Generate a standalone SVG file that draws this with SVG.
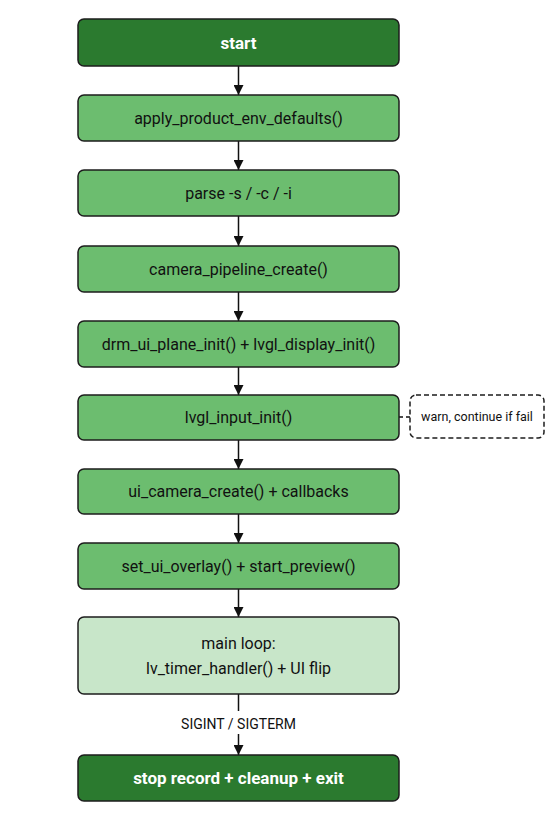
<svg xmlns="http://www.w3.org/2000/svg" width="560" height="840" viewBox="0 0 560 840">
<defs>
<marker id="arr" viewBox="0 0 10 10" refX="10" refY="5" markerWidth="10" markerHeight="10" markerUnits="userSpaceOnUse" orient="auto">
<path d="M0,0 L10,5 L0,10 z" fill="#111"/>
</marker>
<style>
.box{stroke:#1c1c1c;stroke-width:1.5}
.dark{fill:#2b7a2f}
.mid{fill:#6cbd6f}
.light{fill:#c8e6c9}
.t{font-family:Roboto,"Liberation Sans",sans-serif;font-size:16px;text-anchor:middle;fill:#111}
.tw{font-family:Roboto,"Liberation Sans",sans-serif;font-size:17px;font-weight:bold;text-anchor:middle;fill:#fff}
.edge{stroke:#111;stroke-width:1.5;fill:none}
.lbl{font-family:Roboto,"Liberation Sans",sans-serif;font-size:14px;text-anchor:middle;fill:#111}
.note{font-family:Roboto,"Liberation Sans",sans-serif;font-size:12.5px;text-anchor:middle;fill:#111}
</style>
</defs>
<rect width="560" height="840" fill="#fff"/>
<g id="connectors">
<line class="edge" x1="238.5" y1="66" x2="238.5" y2="95" marker-end="url(#arr)"/>
<line class="edge" x1="238.5" y1="141" x2="238.5" y2="170" marker-end="url(#arr)"/>
<line class="edge" x1="238.5" y1="216" x2="238.5" y2="246" marker-end="url(#arr)"/>
<line class="edge" x1="238.5" y1="292" x2="238.5" y2="321" marker-end="url(#arr)"/>
<line class="edge" x1="238.5" y1="367" x2="238.5" y2="395" marker-end="url(#arr)"/>
<line class="edge" x1="238.5" y1="440" x2="238.5" y2="469" marker-end="url(#arr)"/>
<line class="edge" x1="238.5" y1="514" x2="238.5" y2="543" marker-end="url(#arr)"/>
<line class="edge" x1="238.5" y1="589" x2="238.5" y2="617" marker-end="url(#arr)"/>
<line class="edge" x1="238.5" y1="694" x2="238.5" y2="711"/>
<line class="edge" x1="238.5" y1="734" x2="238.5" y2="755" marker-end="url(#arr)"/>
<text class="lbl" x="238.5" y="729">SIGINT / SIGTERM</text>
<line class="edge" x1="399" y1="417" x2="410" y2="417" stroke-dasharray="4,3"/>
</g>
<g id="start"><rect class="box dark" x="78" y="19" width="321" height="47" rx="6"/><text class="tw" x="238.5" y="48.5">start</text></g>
<g id="apply_defaults"><rect class="box mid" x="78" y="95" width="321" height="46" rx="6"/><text class="t" x="238.5" y="124">apply_product_env_defaults()</text></g>
<g id="parse"><rect class="box mid" x="78" y="170" width="321" height="46" rx="6"/><text class="t" x="238.5" y="199">parse -s / -c / -i</text></g>
<g id="camera_pipeline"><rect class="box mid" x="78" y="246" width="321" height="46" rx="6"/><text class="t" x="238.5" y="275">camera_pipeline_create()</text></g>
<g id="drm_init"><rect class="box mid" x="78" y="321" width="321" height="46" rx="6"/><text class="t" x="238.5" y="350">drm_ui_plane_init() + lvgl_display_init()</text></g>
<g id="input_init"><rect class="box mid" x="78" y="395" width="321" height="45" rx="6"/><text class="t" x="238.5" y="423">lvgl_input_init()</text></g>
<g id="ui_camera"><rect class="box mid" x="78" y="469" width="321" height="45" rx="6"/><text class="t" x="238.5" y="497">ui_camera_create() + callbacks</text></g>
<g id="overlay"><rect class="box mid" x="78" y="543" width="321" height="46" rx="6"/><text class="t" x="238.5" y="572">set_ui_overlay() + start_preview()</text></g>
<g id="main_loop"><rect class="box light" x="78" y="617" width="321" height="77" rx="6"/><text class="t" x="238.5" y="649">main loop:</text><text class="t" x="238.5" y="674">lv_timer_handler() + UI flip</text></g>
<g id="stop"><rect class="box dark" x="78" y="755" width="321" height="46" rx="6"/><text class="tw" x="238.5" y="784">stop record + cleanup + exit</text></g>
<g id="note"><rect x="410" y="395" width="134" height="43" rx="6" fill="#fff" stroke="#1c1c1c" stroke-width="1.5" stroke-dasharray="5,3"/><text class="note" x="477" y="421">warn, continue if fail</text></g>
</svg>
